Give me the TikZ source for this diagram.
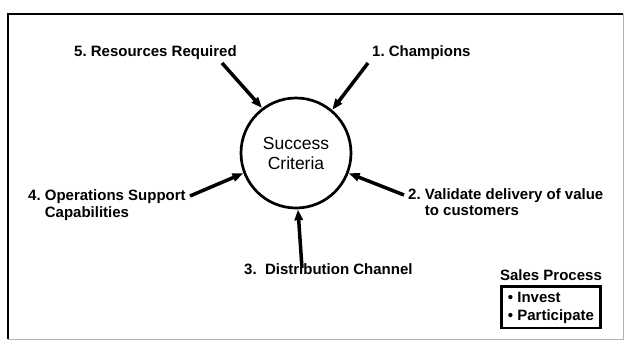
\documentclass[tikz,border=0pt]{standalone}
\usepackage{fontspec}
\setmainfont{Liberation Sans}
\usetikzlibrary{positioning,arrows.meta}
\frenchspacing

\begin{document}
\begin{tikzpicture}[x=1pt, y=-1pt, node distance=4pt,
  every node/.style={inner sep=0pt, font=\fontsize{15}{16.5}\selectfont\bfseries},
  crit/.style={circle, draw, line width=2.7pt, minimum size=110pt, font=\fontsize{17.5}{20}\selectfont, align=center},
  feed/.style={-{Triangle[length=11pt,width=8pt]}, line width=3.5pt}]
  \useasboundingbox (0,0) rectangle (627,341);
  % frame
  \draw[line width=2.5pt] (8,339) -- (8,14) -- (623,14);
  \draw[gray!60, line width=0.8pt] (623,14) -- (623,339) -- (8,339);
  % centre
  \node (succ) [crit] at (296,153) {Success\\Criteria};
  % criteria labels
  \node (res) [anchor=base west] at (74,56) {5. Resources Required};
  \node (champ) [anchor=base west] at (372,56) {1. Champions};
  \node (ops) [anchor=west, align=left] at (28,205) {4. Operations Support\\\hphantom{4. }Capabilities};
  \node (valid) [anchor=west, align=left] at (408,202) {2. Validate delivery of value\\\hphantom{2. }to customers};
  \node (dist) [anchor=base west] at (244,274) {3.\ \ Distribution Channel};
  % sales process
  \node (stitle) [anchor=base] at (551,280) {Sales Process};
  \node (sbox) [below=5pt of stitle, draw, line width=2.7pt, align=left, inner xsep=2pt, inner ysep=5pt, minimum width=99pt,
    font=\fontsize{15}{18}\selectfont\bfseries] {\textbullet\ Invest\\\textbullet\ Participate};
  % arrow tails
  \coordinate (resT) at (222,63);
  \coordinate (champT) at (368,63);
  \coordinate (opsT) at (190,196);
  \coordinate (validT) at (404,195);
  \coordinate (distT) at (302,268);
  \draw[feed] (resT) -- (succ.127);
  \draw[feed] (champT) -- (succ.50);
  \draw[feed] (opsT) -- (succ.201);
  \draw[feed] (validT) -- (succ.339);
  \draw[feed] (distT) -- (succ.272);
\end{tikzpicture}
\end{document}
